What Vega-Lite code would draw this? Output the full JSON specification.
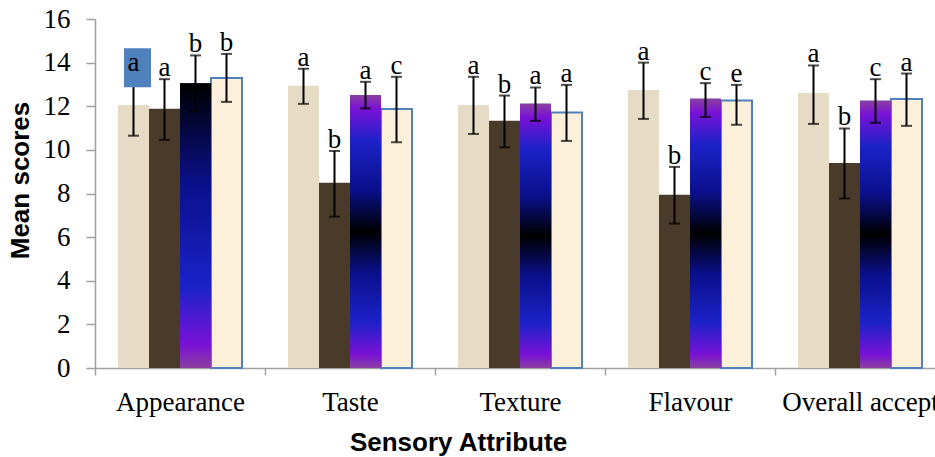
{
  "$schema": "https://vega.github.io/schema/vega-lite/v6.json",
  "width": 840,
  "height": 349,
  "autosize": {"type": "none"},
  "padding": {"left": 95, "top": 19, "right": 0, "bottom": 89},
  "background": "white",
  "config": {"view": {"stroke": null}},
  "data": {
    "values": [
      {"attribute": "Appearance", "sample": "S1", "mean": 12.06, "lo": 10.65, "hi": 13.47, "letter": "a"},
      {"attribute": "Appearance", "sample": "S2", "mean": 11.88, "lo": 10.46, "hi": 13.24, "letter": "a"},
      {"attribute": "Appearance", "sample": "S3", "mean": 13.06, "lo": 11.76, "hi": 14.33, "letter": "b"},
      {"attribute": "Appearance", "sample": "S4", "mean": 13.29, "lo": 12.2, "hi": 14.4, "letter": "b"},
      {"attribute": "Taste", "sample": "S1", "mean": 12.94, "lo": 12.11, "hi": 13.72, "letter": "a"},
      {"attribute": "Taste", "sample": "S2", "mean": 8.49, "lo": 6.94, "hi": 9.95, "letter": "b"},
      {"attribute": "Taste", "sample": "S3", "mean": 12.52, "lo": 11.9, "hi": 13.12, "letter": "a"},
      {"attribute": "Taste", "sample": "S4", "mean": 11.87, "lo": 10.35, "hi": 13.35, "letter": "c"},
      {"attribute": "Texture", "sample": "S1", "mean": 12.06, "lo": 10.73, "hi": 13.35, "letter": "a"},
      {"attribute": "Texture", "sample": "S2", "mean": 11.33, "lo": 10.12, "hi": 12.49, "letter": "b"},
      {"attribute": "Texture", "sample": "S3", "mean": 12.11, "lo": 11.33, "hi": 12.86, "letter": "a"},
      {"attribute": "Texture", "sample": "S4", "mean": 11.71, "lo": 10.41, "hi": 12.98, "letter": "a"},
      {"attribute": "Flavour", "sample": "S1", "mean": 12.75, "lo": 11.42, "hi": 14.0, "letter": "a"},
      {"attribute": "Flavour", "sample": "S2", "mean": 7.94, "lo": 6.62, "hi": 9.22, "letter": "b"},
      {"attribute": "Flavour", "sample": "S3", "mean": 12.34, "lo": 11.51, "hi": 13.06, "letter": "c"},
      {"attribute": "Flavour", "sample": "S4", "mean": 12.26, "lo": 11.15, "hi": 12.98, "letter": "e"},
      {"attribute": "Overall accept", "sample": "S1", "mean": 12.61, "lo": 11.19, "hi": 13.87, "letter": "a"},
      {"attribute": "Overall accept", "sample": "S2", "mean": 9.4, "lo": 7.77, "hi": 10.98, "letter": "b"},
      {"attribute": "Overall accept", "sample": "S3", "mean": 12.25, "lo": 11.24, "hi": 13.24, "letter": "c"},
      {"attribute": "Overall accept", "sample": "S4", "mean": 12.33, "lo": 11.1, "hi": 13.5, "letter": "a"}
    ]
  },
  "encoding": {
    "x": {
      "field": "attribute",
      "type": "nominal",
      "sort": ["Appearance", "Taste", "Texture", "Flavour", "Overall accept"],
      "scale": {"range": [0, 850], "paddingInner": 0, "paddingOuter": 0},
      "axis": {
        "title": "Sensory Attribute",
        "labelAngle": 0,
        "labelFont": "Liberation Serif",
        "labelFontSize": 27,
        "labelColor": "#000000",
        "labelPadding": 14,
        "labelLimit": 0,
        "tickBand": "extent",
        "tickSize": 7,
        "tickColor": "#a0a0a0",
        "tickWidth": 1.5,
        "domainColor": "#a0a0a0",
        "domainWidth": 1.5,
        "titleFont": "Liberation Sans",
        "titleFontWeight": "bold",
        "titleFontSize": 26,
        "titleColor": "#000000",
        "titleX": 363,
        "titleY": 82,
        "titleBaseline": "alphabetic",
        "titleAlign": "center"
      }
    },
    "xOffset": {
      "field": "sample",
      "type": "nominal",
      "scale": {"domain": ["S1", "S2", "S3", "S4"], "paddingInner": 0, "paddingOuter": 0.742}
    }
  },
  "layer": [
    {
      "mark": {"type": "bar", "strokeWidth": 2},
      "encoding": {
        "y": {
          "field": "mean",
          "type": "quantitative",
          "scale": {"domain": [0, 16], "nice": false},
          "axis": {
            "title": "Mean scores",
            "values": [0, 2, 4, 6, 8, 10, 12, 14, 16],
            "grid": false,
            "labelFont": "Liberation Serif",
            "labelFontSize": 27,
            "labelColor": "#000000",
            "labelPadding": 16,
            "tickSize": 9,
            "tickColor": "#a0a0a0",
            "tickWidth": 1.5,
            "domainColor": "#a0a0a0",
            "domainWidth": 1.5,
            "titleFont": "Liberation Sans",
            "titleFontWeight": "bold",
            "titleFontSize": 26,
            "titleColor": "#000000",
            "titleX": -67,
            "titleY": 161,
            "titleBaseline": "alphabetic",
            "titleAlign": "center",
            "titleAngle": 270
          }
        },
        "color": {
          "field": "sample",
          "type": "nominal",
          "scale": {"domain": ["S1", "S2", "S3", "S4"], "range": ["#e6dcc6", "#4a3a29", "#0a108a", "#fdf0da"]},
          "legend": null
        },
        "stroke": {
          "condition": {"test": "datum.sample === 'S4'", "value": "#4f81bd"},
          "value": null
        }
      }
    },
    {
      "transform": [{"filter": "datum.sample === 'S3' && datum.attribute !== 'Appearance'"}],
      "mark": {
        "type": "bar",
        "fill": {
          "gradient": "linear",
          "x1": 0, "y1": 0, "x2": 0, "y2": 1,
          "stops": [
            {"offset": 0, "color": "#8a40a0"},
            {"offset": 0.05, "color": "#7a12d6"},
            {"offset": 0.17, "color": "#1c22c8"},
            {"offset": 0.35, "color": "#0a108a"},
            {"offset": 0.5, "color": "#000000"},
            {"offset": 0.65, "color": "#0a108a"},
            {"offset": 0.83, "color": "#1c22c8"},
            {"offset": 0.95, "color": "#7a12d6"},
            {"offset": 1, "color": "#8a40a0"}
          ]
        }
      },
      "encoding": {"y": {"field": "mean", "type": "quantitative"}}
    },
    {
      "transform": [{"filter": "datum.sample === 'S3' && datum.attribute === 'Appearance'"}],
      "mark": {
        "type": "bar",
        "fill": {
          "gradient": "linear",
          "x1": 0, "y1": 0, "x2": 0, "y2": 1,
          "stops": [
            {"offset": 0, "color": "#000000"},
            {"offset": 0.35, "color": "#0a108a"},
            {"offset": 0.72, "color": "#1c22c8"},
            {"offset": 0.92, "color": "#7a12d6"},
            {"offset": 1, "color": "#8a40a0"}
          ]
        }
      },
      "encoding": {"y": {"field": "mean", "type": "quantitative"}}
    },
    {
      "mark": {"type": "rule", "color": "#000000", "strokeWidth": 2},
      "encoding": {
        "y": {"field": "lo", "type": "quantitative"},
        "y2": {"field": "hi"}
      }
    },
    {
      "mark": {"type": "tick", "color": "#000000", "orient": "horizontal", "size": 11, "thickness": 2},
      "encoding": {"y": {"field": "lo", "type": "quantitative"}}
    },
    {
      "mark": {"type": "tick", "color": "#000000", "orient": "horizontal", "size": 11, "thickness": 2},
      "encoding": {"y": {"field": "hi", "type": "quantitative"}}
    },
    {
      "transform": [{"filter": "datum.sample === 'S1' && datum.attribute === 'Appearance'"}],
      "mark": {
        "type": "point",
        "shape": "M-0.487,-1.333H0.897V0.667H-0.487Z",
        "size": 1521,
        "filled": true,
        "fill": "#4f81bd",
        "opacity": 1,
        "strokeWidth": 0
      },
      "encoding": {"y": {"field": "hi", "type": "quantitative"}}
    },
    {
      "mark": {
        "type": "text",
        "font": "Liberation Serif",
        "fontSize": 27,
        "color": "#000000",
        "baseline": "alphabetic",
        "align": "center",
        "dy": -3
      },
      "encoding": {
        "y": {"field": "hi", "type": "quantitative"},
        "text": {"field": "letter"}
      }
    }
  ]
}
